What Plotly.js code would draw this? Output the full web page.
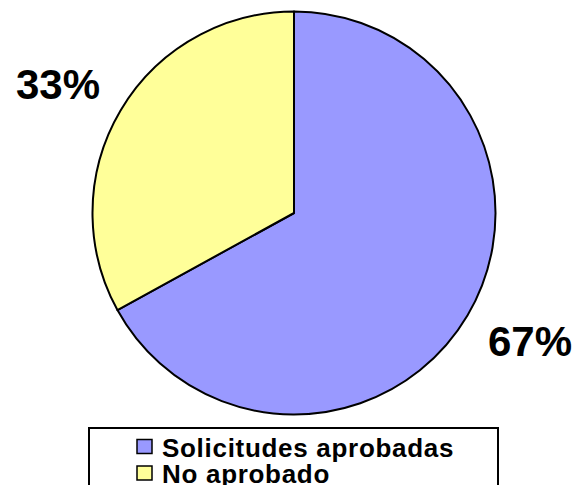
<!DOCTYPE html>
<html>
<head>
<meta charset="utf-8">
<script src="https://cdn.plot.ly/plotly-3.0.1.min.js"></script>
<style>html,body{margin:0;padding:0;background:#fff;}#chart{width:578px;height:485px;}</style>
</head>
<body>
<div id="chart"></div>
<script>
const labels = ["Solicitudes aprobadas", "No aprobado"];
const values = [67, 33];
const colors = ["#9999FF", "#FFFF99"];

const W = 578, H = 485;
const cx = 294, cy = 213, R = 201.5;
const dom = {x: [(cx - R) / W, (cx + R) / W], y: [1 - (cy + R) / H, 1 - (cy - R) / H]};
const FONT = "Liberation Sans, Arial, sans-serif";

const total = values.reduce((a, b) => a + b, 0);
const annotations = [];
const shapes = [];
let acc = 0;
values.forEach((v, i) => {
  const mid = (acc + v / 2) / total * 2 * Math.PI;
  acc += v;
  const px = cx + 1.36 * R * Math.sin(mid);
  const py = cy - 1.25 * R * Math.cos(mid);
  annotations.push({
    x: px / W, y: 1 - py / H, xref: "paper", yref: "paper",
    text: Math.round(v / total * 100) + "%",
    showarrow: false, xanchor: "center", yanchor: "middle",
    font: {family: FONT, size: 42, color: "#000", weight: "bold"}
  });
});

// legend box
shapes.push({
  type: "rect", xref: "paper", yref: "paper",
  x0: 89 / W, x1: 498 / W, y0: -0.1, y1: 1 - 428 / H,
  line: {color: "#000", width: 2}, fillcolor: "rgba(0,0,0,0)"
});
// legend entries
labels.forEach((lab, i) => {
  const rowY = 446.5 + i * 26.5;
  shapes.push({
    type: "rect", xref: "paper", yref: "paper",
    x0: 137 / W, x1: 152 / W, y0: 1 - (rowY + 7) / H, y1: 1 - (rowY - 7) / H,
    line: {color: "#000", width: 1.5}, fillcolor: colors[i]
  });
  annotations.push({
    x: 160 / W, y: 1 - (rowY + 1) / H, xref: "paper", yref: "paper",
    text: '<span style="letter-spacing:0.7px">' + lab + '</span>',
    showarrow: false, xanchor: "left", yanchor: "middle",
    font: {family: FONT, size: 26, color: "#000", weight: "bold"}
  });
});

const trace = {
  type: "pie",
  labels: labels,
  values: values,
  sort: false,
  direction: "clockwise",
  rotation: 0,
  marker: {colors: colors, line: {color: "#000", width: 2}},
  textinfo: "none",
  hoverinfo: "none",
  domain: dom
};

const layout = {
  width: W, height: H,
  margin: {l: 0, r: 0, t: 0, b: 0},
  paper_bgcolor: "#fff",
  showlegend: false,
  shapes: shapes,
  annotations: annotations
};

Plotly.newPlot("chart", [trace], layout, {displayModeBar: false, staticPlot: true});
</script>
</body>
</html>
